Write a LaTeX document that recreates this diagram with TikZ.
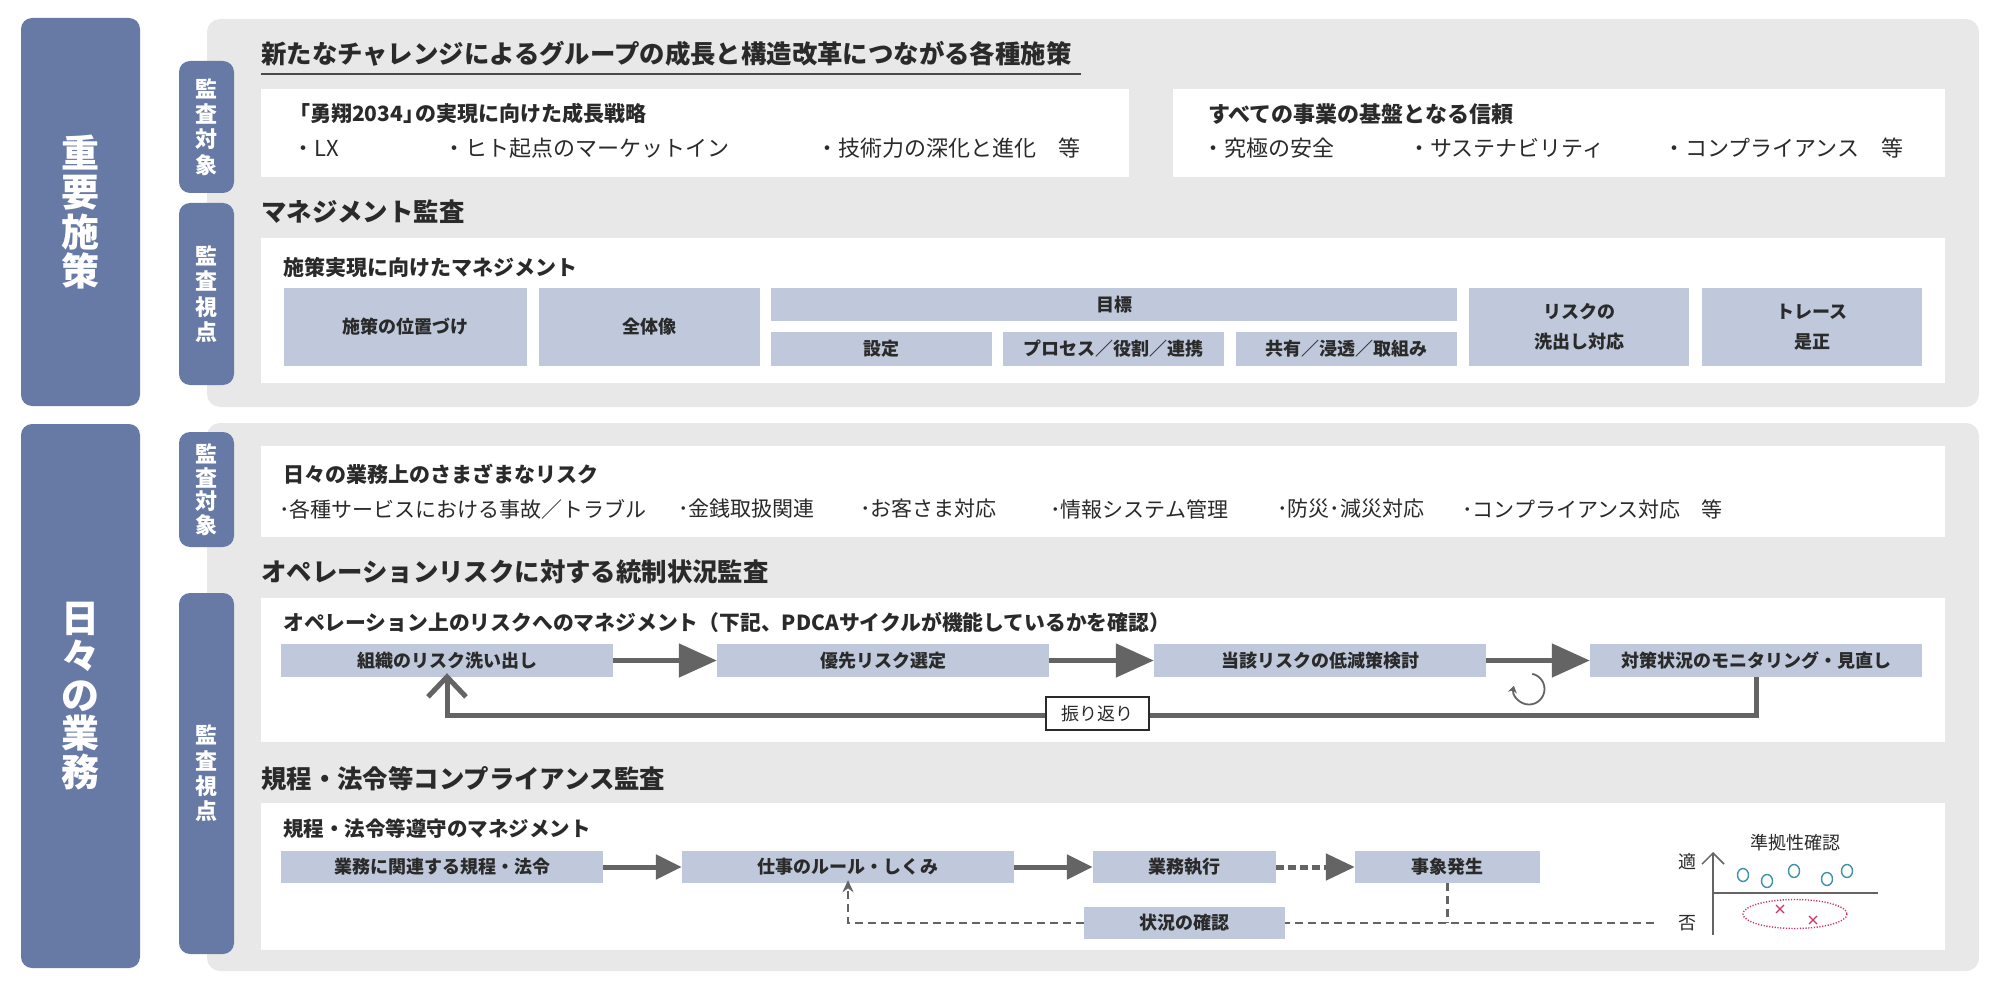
\documentclass[tikz,border=0pt]{standalone}
\usepackage{fontspec}
\setmainfont{Noto Sans CJK JP}
\usetikzlibrary{arrows.meta}
\definecolor{navy}{HTML}{6779A5}
\definecolor{panelc}{HTML}{E8E8E8}
\definecolor{flowc}{HTML}{BFC9DB}
\definecolor{arr}{HTML}{646464}
\definecolor{txt}{HTML}{2A2A2A}
\definecolor{tealc}{HTML}{3E93A8}
\definecolor{crim}{HTML}{D4306C}
\tikzset{
  tag/.style={fill=navy, rounded corners=11pt, inner sep=0pt, text=white, align=center},
  bigtagfont/.style={font=\fontsize{38}{39.5}\selectfont\bfseries},
  smalltagfont/.style={font=\fontsize{22}{25.3}\selectfont\bfseries},
  panelbox/.style={fill=panelc, rounded corners=13pt, inner sep=0pt},
  wbox/.style={fill=white, inner sep=0pt},
  fbox/.style={fill=flowc, inner sep=0pt, text=txt, align=center, font=\fontsize{18}{30}\selectfont\bfseries},
  hd/.style={anchor=west, inner sep=0pt, text=txt, font=\fontsize{25.4}{30}\selectfont\bfseries},
  subhd/.style={anchor=west, inner sep=0pt, text=txt, font=\fontsize{21.5}{25}\selectfont\bfseries},
  item/.style={anchor=west, inner sep=0pt, text=txt, font=\fontsize{22}{25}\selectfont},
  bitem/.style={anchor=west, inner sep=0pt, text=txt, font=\fontsize{21}{24}\selectfont},
  bigarrow/.style={draw=arr, line width=5pt, -{Triangle[length=38pt,width=33pt]}},
  midarrow/.style={draw=arr, line width=5pt, -{Triangle[length=26pt,width=24pt]}},
  dotarrow/.style={draw=arr, line width=5pt, dash pattern=on 8pt off 4pt, -{Triangle[length=29pt,width=26pt]}},
  fbline/.style={draw=arr, line width=5pt, -{Straight Barb[length=20pt,width=38pt,line width=5pt]}},
  dline/.style={draw=arr, line width=2.4pt, dash pattern=on 8pt off 5pt},
  chartline/.style={draw=arr, line width=1.5pt},
  charttext/.style={inner sep=0pt, text=txt, font=\fontsize{18}{22}\selectfont},
}
\begin{document}
\begin{tikzpicture}[x=1pt,y=-1pt]
\useasboundingbox (0,0) rectangle (2000,992);

% ===== Top section =====
\node[panelbox, minimum width=1772pt, minimum height=388pt] (panelA) at (1093,213) {};
\node[tag, bigtagfont, minimum width=119pt, minimum height=388pt] (tagA) at (80.5,212) {重\\要\\施\\策};
\node[tag, smalltagfont, minimum width=55pt, minimum height=132pt] (tagA1) at (206.5,127) {監\\査\\対\\象};
\node[tag, smalltagfont, minimum width=55pt, minimum height=182pt] (tagA2) at (206.5,294) {監\\査\\視\\点};

\node[hd] (title1) at (261,54) {新たなチャレンジによるグループの成長と構造改革につながる各種施策};
\coordinate (ulA) at (261,74);
\coordinate (ulB) at (1081,74);
\draw[draw=txt!85, line width=2pt] (ulA) -- (ulB);

\node[wbox, minimum width=868pt, minimum height=88pt] (wb1) at (695,133) {};
\node[wbox, minimum width=772pt, minimum height=88pt] (wb2) at (1559,133) {};
\node[subhd, font=\fontsize{21}{25}\selectfont\bfseries] (s1) at (289,114) {「勇翔2034」\kern-0.42emの実現に向けた成長戦略};
\node[item] (i11) at (292,148) {・LX};
\node[item] (i12) at (443,148) {・ヒト起点のマーケットイン};
\node[item] (i13) at (816,148) {・技術力の深化と進化　等};
\node[subhd, font=\fontsize{22}{25}\selectfont\bfseries] (s2) at (1208,114) {すべての事業の基盤となる信頼};
\node[item] (i21) at (1202,148) {・究極の安全};
\node[item] (i22) at (1408,148) {・サステナビリティ};
\node[item] (i23) at (1663,148) {・コンプライアンス　等};

\node[hd] (title2) at (261,212) {マネジメント監査};
\node[wbox, minimum width=1684pt, minimum height=145pt] (wb3) at (1103,310.5) {};
\node[subhd, font=\fontsize{21}{24}\selectfont\bfseries] (s3) at (283,267) {施策実現に向けたマネジメント};
\node[fbox, minimum width=243pt, minimum height=78pt] (m1) at (405.5,327) {施策の位置づけ};
\node[fbox, minimum width=221pt, minimum height=78pt] (m2) at (649.5,327) {全体像};
\node[fbox, minimum width=686pt, minimum height=33pt] (m3) at (1114,304.5) {目標};
\node[fbox, minimum width=221pt, minimum height=34pt] (m4) at (881.5,349) {設定};
\node[fbox, minimum width=221pt, minimum height=34pt] (m5) at (1113.5,349) {プロセス／役割／連携};
\node[fbox, minimum width=221pt, minimum height=34pt] (m6) at (1346.5,349) {共有／浸透／取組み};
\node[fbox, minimum width=220pt, minimum height=78pt] (m7) at (1579,327) {リスクの\\洗出し対応};
\node[fbox, minimum width=220pt, minimum height=78pt] (m8) at (1812,327) {トレース\\是正};

% ===== Bottom section =====
\node[panelbox, minimum width=1772pt, minimum height=548pt] (panelB) at (1093,697) {};
\node[tag, font=\fontsize{38}{38.5}\selectfont\bfseries, minimum width=119pt, minimum height=544pt] (tagB) at (80.5,696) {日\\々\\の\\業\\務};
\node[tag, font=\fontsize{22}{23.5}\selectfont\bfseries, minimum width=55pt, minimum height=115pt] (tagB1) at (206.5,489.5) {監\\査\\対\\象};
\node[tag, smalltagfont, minimum width=55pt, minimum height=361pt] (tagB2) at (206.5,773.5) {監\\査\\視\\点};

\node[wbox, minimum width=1684pt, minimum height=91pt] (wbA) at (1103,491.5) {};
\node[subhd, font=\fontsize{21}{24}\selectfont\bfseries] (sA) at (283,474) {日々の業務上のさまざまなリスク};
\node[bitem] (a1) at (279,509) {･各種サービスにおける事故／トラブル};
\node[bitem] (a2) at (678,509) {･金銭取扱関連};
\node[bitem] (a3) at (860,509) {･お客さま対応};
\node[bitem] (a4) at (1050,509) {･情報システム管理};
\node[bitem] (a5) at (1277,509) {･防災･減災対応};
\node[bitem] (a6) at (1462,509) {･コンプライアンス対応　等};

\node[hd] (title3) at (261,572) {オペレーションリスクに対する統制状況監査};
\node[wbox, minimum width=1684pt, minimum height=144pt] (wbB) at (1103,670) {};
\node[subhd, font=\fontsize{20.8}{24}\selectfont\bfseries] (sB) at (283,622) {オペレーション上のリスクへのマネジメント（下記、PDCAサイクルが機能しているかを確認）};
\node[fbox, minimum width=332pt, minimum height=33pt] (p1) at (447,660.5) {組織のリスク洗い出し};
\node[fbox, minimum width=332pt, minimum height=33pt] (p2) at (883,660.5) {優先リスク選定};
\node[fbox, minimum width=332pt, minimum height=33pt] (p3) at (1320,660.5) {当該リスクの低減策検討};
\node[fbox, minimum width=332pt, minimum height=33pt] (p4) at (1756,660.5) {対策状況のモニタリング・見直し};
\draw[bigarrow] (p1.east) -- (p2.west);
\draw[bigarrow] (p2.east) -- (p3.west);
\draw[bigarrow] (p3.east) -- (p4.west);
\draw[fbline] (p4.south) -- ++(0,38) -| ([yshift=4pt]p1.south);
\node[fill=white, draw=txt, line width=1.2pt, inner sep=0pt, minimum width=103pt, minimum height=33pt, text=txt, font=\fontsize{18}{22}\selectfont] (fbl) at (1097.5,713.5) {振り返り};
\coordinate (cyc) at (1529,689);
\draw[draw=arr, line width=1.8pt, -{Stealth[length=7pt,width=9pt]}] (cyc) ++(-78:15.5) arc[start angle=-78, end angle=192, radius=15.5];

\node[hd] (title4) at (261,779) {規程・法令等コンプライアンス監査};
\node[wbox, minimum width=1684pt, minimum height=147pt] (wbC) at (1103,876.5) {};
\node[subhd, font=\fontsize{20.5}{24}\selectfont\bfseries] (sC) at (283,829) {規程・法令等遵守のマネジメント};
\node[fbox, minimum width=322pt, minimum height=32pt] (c1) at (442,867) {業務に関連する規程・法令};
\node[fbox, minimum width=332pt, minimum height=32pt] (c2) at (848,867) {仕事のルール・しくみ};
\node[fbox, minimum width=183pt, minimum height=32pt] (c3) at (1184.5,867) {業務執行};
\node[fbox, minimum width=185pt, minimum height=32pt] (c4) at (1447.5,867) {事象発生};
\node[fbox, minimum width=201pt, minimum height=32pt] (c5) at (1184.5,923) {状況の確認};
\draw[midarrow] (c1.east) -- (c2.west);
\draw[midarrow] (c2.east) -- (c3.west);
\draw[dotarrow] (c3.east) -- (c4.west);
\coordinate (dend) at (1654,923);
\draw[dline] (c4.south) -- (c4.south |- c5.east);
\draw[dline] (dend) -- (c5.east);
\draw[dline, -{Stealth[length=12pt,width=11pt]}] (c5.west) -- (c2.south |- c5.west) -- ([yshift=3pt]c2.south);

% chart
\coordinate (ax0) at (1713,935);
\coordinate (ax1) at (1713,852);
\coordinate (hx0) at (1713,893);
\coordinate (hx1) at (1878,893);
\draw[chartline, -{Straight Barb[length=11pt,width=22pt,line width=1.5pt]}] (ax0) -- (ax1);
\draw[chartline] (hx0) -- (hx1);
\node[charttext] (ct) at (1795,843) {準拠性確認};
\node[charttext] (cy) at (1687,862) {適};
\node[charttext] (cn) at (1687,923) {否};
\foreach \cx/\cyy in {1743/875, 1767/881, 1794/871, 1827/879, 1847/871}
  \draw[draw=tealc, line width=1.4pt] (\cx,\cyy) ellipse [x radius=5.5, y radius=6.5];
\draw[draw=crim, line width=1.4pt, dash pattern=on 1.2pt off 1.6pt] (1795,914) ellipse [x radius=52, y radius=14.5];
\foreach \cx/\cyy in {1780/909, 1813/920}
  \draw[draw=crim, line width=1.2pt] (\cx-4,\cyy-4) -- (\cx+4,\cyy+4) (\cx-4,\cyy+4) -- (\cx+4,\cyy-4);
\end{tikzpicture}
\end{document}
